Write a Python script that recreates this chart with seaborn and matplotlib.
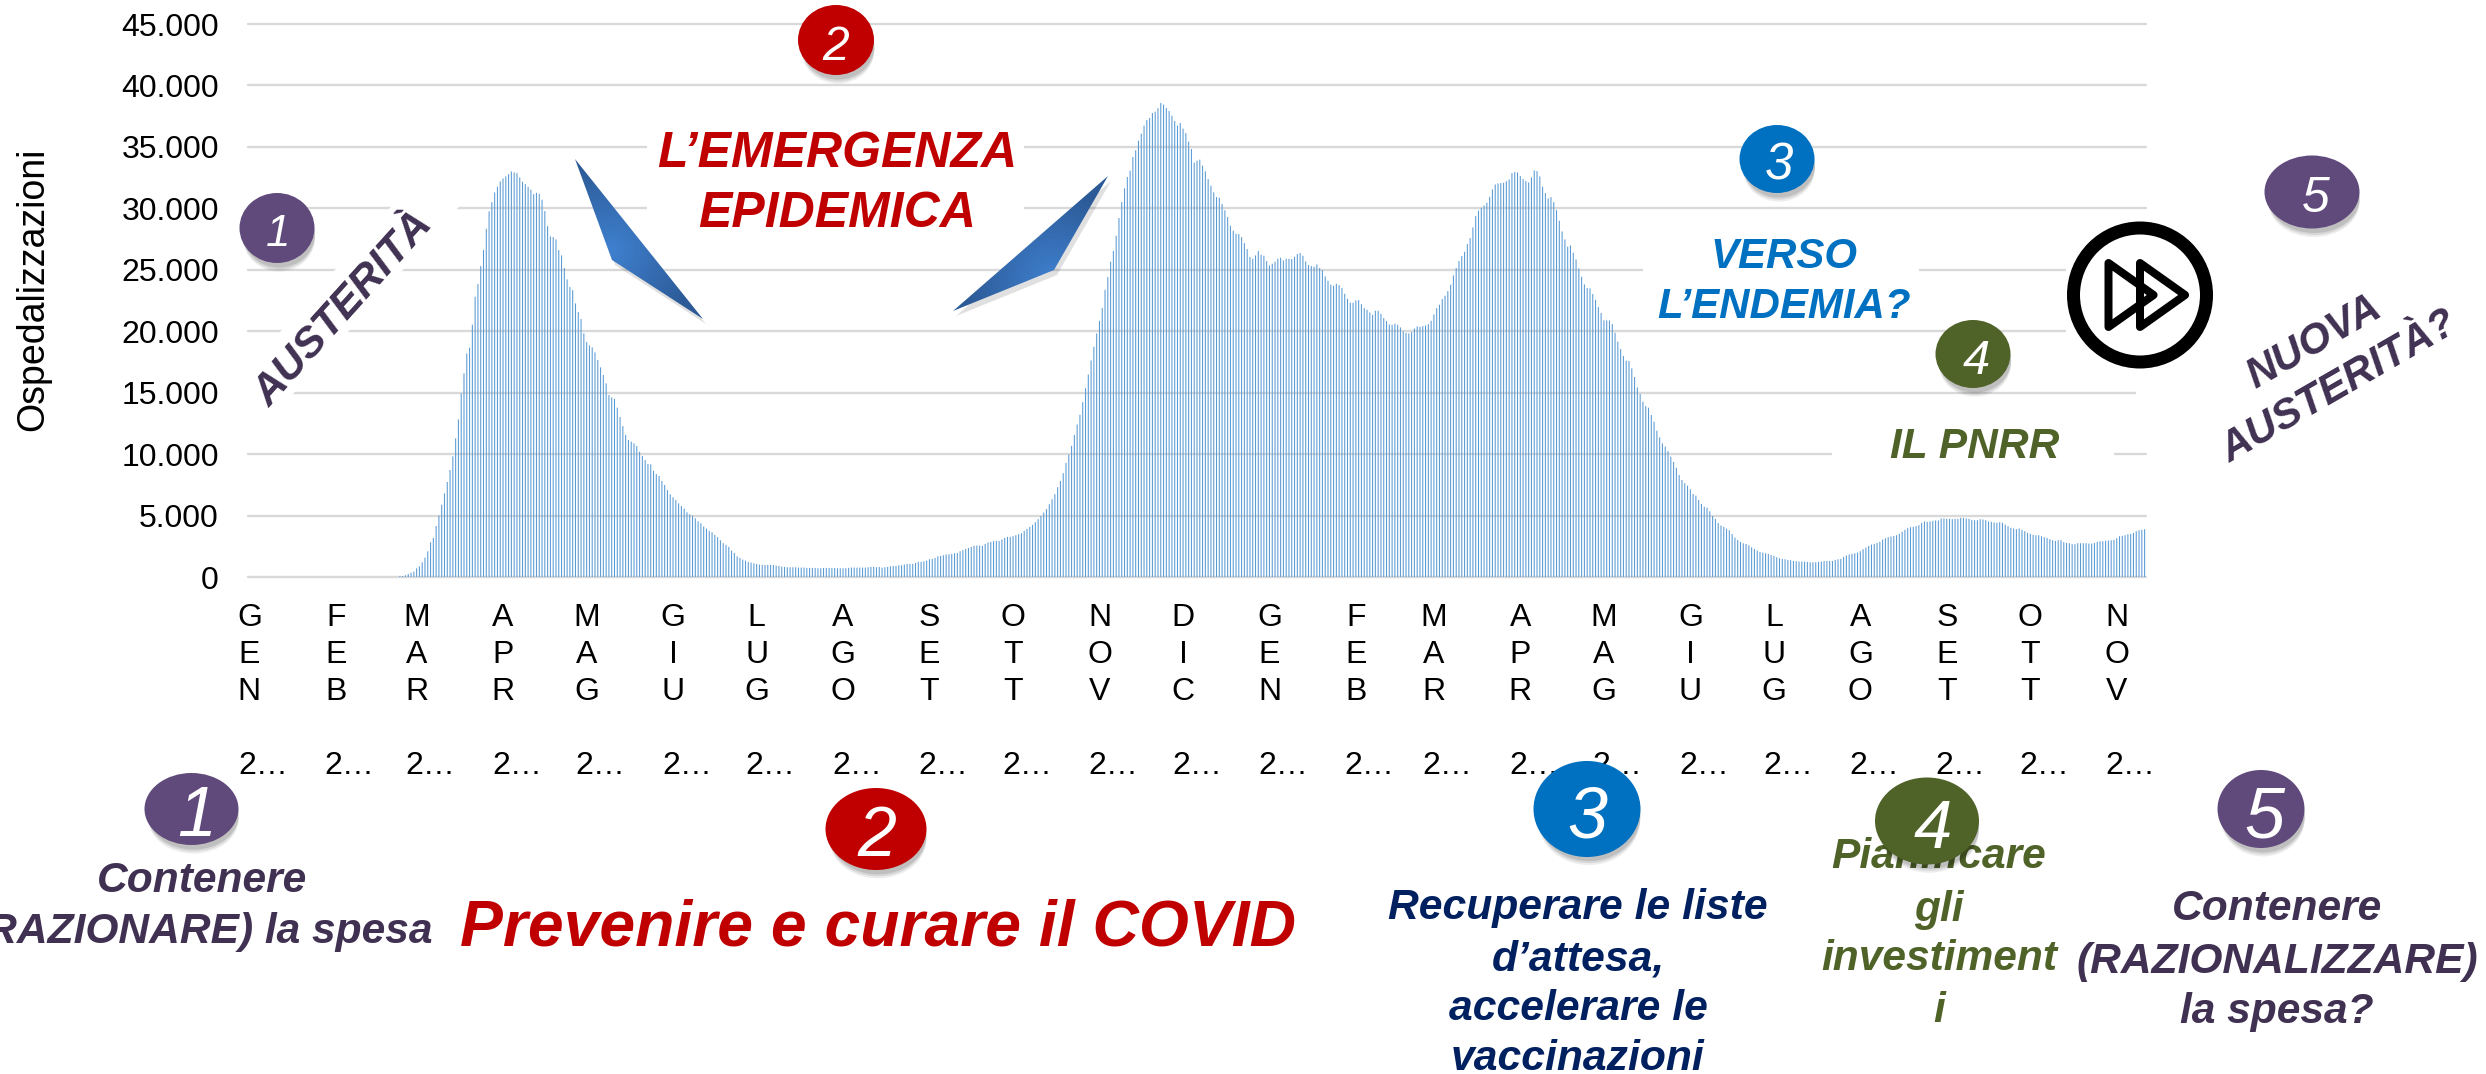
import numpy as np
import pandas as pd
import matplotlib
matplotlib.use("Agg")
import matplotlib.pyplot as plt
import seaborn as sns
from matplotlib.patches import Ellipse, Polygon, Rectangle
from matplotlib.colors import LinearSegmentedColormap
from matplotlib.transforms import blended_transform_factory

# ---------- data: daily hospitalisations ----------
before_onset = [0] * 54
first_wave = [
    108, 108, 163, 271, 379, 461, 732, 894, 1220, 1599, 2114, 2846, 3198, 4173, 5014, 5908,
    6829, 7751, 8726, 9837, 11300, 12845, 14959, 16585, 18211, 18672, 20542, 22818, 23848,
    25311, 26612, 28347, 29756, 30515, 31300, 31761, 32195, 32439, 32601, 32791, 33008,
    32927, 32872, 32520, 32168, 31978, 31761, 31517, 31165, 31273, 31192, 30704, 29783,
    28563, 27723, 27669, 27479, 26612, 26179, 25149, 24227, 23604, 23360, 22276, 21572,
    21003, 19837, 19133, 18862, 18699, 18292, 17669, 17073, 16450, 15772, 14824, 14634,
    14499, 13794, 13035, 12303, 11572, 11165, 11030, 10894, 10677, 10217, 9864, 9539, 9214,
    9187, 8672, 8401, 8238, 7832, 7507, 7100, 6748, 6504, 6287, 6016, 5799, 5583, 5285,
    5122, 5014, 4797, 4553,
]
summer_2020 = [
    4400, 4130, 3967, 3777, 3668, 3450, 3260, 3016, 2771, 2635, 2472, 2174, 1983, 1712, 1576,
    1440, 1358, 1250, 1195, 1141, 1087, 1032, 1005, 1005, 1005, 1005, 1005, 951, 924, 869,
    842, 815, 815, 815, 815, 788, 788, 788, 761, 761, 761, 761, 734, 734, 761, 761, 761, 761,
    761, 734, 734, 734, 734, 761, 788, 788, 788, 788, 788, 788, 815, 842, 842, 815, 842, 788,
    815, 842, 897, 924, 924, 978, 978, 1032, 1087, 1087, 1087, 1168, 1250, 1250, 1304, 1358,
    1467, 1494, 1576, 1712, 1739, 1793, 1848, 1875, 1902, 1956, 1983, 2119, 2201, 2309, 2391,
    2472, 2554, 2581, 2581, 2554, 2717, 2826, 2880, 2934, 2962, 2962, 3070, 3206, 3288, 3288,
    3342, 3423, 3505, 3586, 3777, 3940, 4103, 4266, 4483, 4728,
]
second_wave = [
    4992, 5263, 5562, 5941, 6348, 6755, 7325, 7841, 8465, 9306, 9984, 10689, 11584, 12426,
    13212, 14243, 15382, 16495, 17634, 18746, 19832, 20862, 21893, 23386, 24417, 25665,
    26533, 27781, 29220, 30521, 31634, 32556, 33072, 34184, 34726, 35512, 36083, 36734,
    37195, 37358, 37765, 37873, 38144, 38579, 38443, 38172, 37928, 37548, 37114, 36734,
    36951, 36490, 36137, 35432, 34835, 33723, 33886, 33967, 33478, 33017, 32393, 31851,
    31308, 30928, 30874, 30358, 29843, 29300, 28595, 28188, 27944, 27917, 27673, 27184,
    26696, 26045, 25909, 26180, 26533, 26235, 26153, 25719, 25366, 25502, 25665, 25909,
    25991, 25773, 25909, 25909, 25882, 26072, 26289, 26370, 26153, 25692, 25394, 25313,
    25258, 25448, 25150, 24987, 24472, 24119, 23793, 23711, 23874, 23766, 23521, 23061,
    22654, 22328, 22328, 22518, 22545, 22219, 21894, 21758, 21541, 21351, 21677, 21677,
    21433, 21080, 20836, 20565, 20538, 20619, 20538, 20320, 19995, 19886, 19832, 19941,
    20239, 20402, 20375, 20429, 20483, 20592, 20863, 21378, 21894, 22165, 22626, 22898,
    23277, 23793, 24553, 25150, 25718,
]
third_wave = [
    26124, 26477, 27100, 27588, 28455, 29376, 29810, 30054, 30244, 30460, 30948, 31544,
    31951, 32032, 32059, 32086, 32222, 32357, 32872, 32954, 32927, 32628, 32385, 32222,
    32114, 32520, 33089, 33035, 32601, 31761, 31246, 30813, 30921, 30515, 29864, 28997,
    28130, 27479, 26883, 26992, 26395, 25853, 25122, 24444, 23821, 23523, 23496, 23035,
    22574, 21978, 21490, 20894, 20894, 20894, 20596, 19891, 19160, 18564, 17994, 17615,
    17588, 16992, 16287, 15447, 14905, 14282, 13929, 13794, 13198, 12656, 11924, 11382,
    10894, 10623, 10271, 9810, 9377, 8916, 8320, 7913, 7642, 7453, 7154, 6775, 6640, 6287,
    5962, 5745, 5664, 5366, 4986, 4743, 4417, 4201, 4092, 3957, 3821, 3523, 3225, 3035,
    2873, 2764, 2710, 2602, 2439, 2304, 2168,
]
late_2021 = [
    2065, 2010, 1956, 1902, 1820, 1739, 1630, 1549, 1494, 1467, 1413, 1386, 1331, 1304, 1277,
    1277, 1277, 1250, 1223, 1223, 1223, 1250, 1277, 1331, 1331, 1331, 1331, 1413, 1467, 1494,
    1657, 1766, 1848, 1902, 1956, 2010, 2119, 2282, 2418, 2554, 2663, 2717, 2799, 2880, 3070,
    3179, 3260, 3315, 3369, 3423, 3532, 3695, 3858, 3994, 4076, 4103, 4157, 4239, 4429, 4537,
    4510, 4537, 4592, 4619, 4619, 4782, 4782, 4755, 4755, 4728, 4755, 4755, 4836, 4836, 4782,
    4755, 4673, 4646, 4646, 4728, 4700, 4646, 4537, 4510, 4456, 4429, 4483, 4429, 4293, 4157,
    4021, 3967, 3912, 3967, 3858, 3749, 3614, 3532, 3451, 3423, 3423, 3342, 3260, 3206, 3097,
    3016, 2962, 3016, 3016, 2853, 2799, 2771, 2690, 2690, 2771, 2771, 2771, 2771, 2744, 2744,
    2799, 2880, 2934, 2934, 2962, 2989, 3016, 3043, 3179, 3342, 3369, 3423, 3505, 3532, 3614,
    3749, 3831, 3858, 3912,
]
hospitalised = before_onset + first_wave + summer_2020 + second_wave + third_wave + late_2021
assert len(hospitalised) == 681

month_letters = ["G\nE\nN", "F\nE\nB", "M\nA\nR", "A\nP\nR", "M\nA\nG", "G\nI\nU", "L\nU\nG",
                 "A\nG\nO", "S\nE\nT", "O\nT\nT", "N\nO\nV", "D\nI\nC"]
year_label = "2\u2026"
y_ticks = [0, 5000, 10000, 15000, 20000, 25000, 30000, 35000, 40000, 45000]
y_tick_labels = ["0", "5.000", "10.000", "15.000", "20.000", "25.000", "30.000", "35.000",
                 "40.000", "45.000"]

# ---------- figure ----------
W, H = 2486, 1074
sns.set_theme(style="white")
plt.rcParams["font.family"] = ["Liberation Sans", "DejaVu Sans"]


def px(p):
    return p * 0.72


fig = plt.figure(figsize=(W / 100, H / 100), dpi=100, facecolor="white")
L, R, T, B = 248, 2146, 24, 577.3
ax = fig.add_axes([L / W, 1 - B / H, (R - L) / W, (B - T) / H])
ax.set_axisbelow(True)

dates = pd.date_range("2020-01-01", periods=len(hospitalised))
df = pd.DataFrame({"day": np.arange(len(hospitalised)), "ricoverati": hospitalised})
sns.barplot(data=df, x="day", y="ricoverati", color="#5B9BD5", saturation=1, width=0.38,
            linewidth=0, errorbar=None, ax=ax)
for p in ax.patches:
    p.set_snap(False)

ax.set_ylim(0, 45000)
ax.set_xlim(-0.5, len(hospitalised) - 0.5)
ax.set_yticks(y_ticks, y_tick_labels)
firsts = np.where(dates.day == 1)[0]
ax.set_xticks(firsts, [month_letters[dates[i].month - 1] for i in firsts])
ax.tick_params(axis="y", length=0, pad=21, labelsize=23, labelcolor="black")
ax.tick_params(axis="x", length=0, pad=18.5, labelsize=23, labelcolor="black")
plt.setp(ax.get_xticklabels(), linespacing=1.31)
ax.grid(axis="y", color="#D9D9D9", linewidth=1.7)
ax.grid(axis="x", visible=False)
for g in ax.get_ygridlines():
    g.set_clip_on(False)
sns.despine(ax=ax, left=True, bottom=True)
ax.set_xlabel("")
ax.set_ylabel("Ospedalizzazioni", fontsize=27, color="black")
ax.yaxis.set_label_coords((51 - L) / (R - L), 1 - (289 - T) / (B - T))

# the truncated year under every month label
year_tf = blended_transform_factory(ax.transData, ax.transAxes)
year_y = (B - 763) / (B - T)
for i in firsts:
    ax.annotate(year_label, xy=(i, year_y), xycoords=year_tf, xytext=(10, 0), textcoords="offset points",
                ha="center", va="center_baseline", fontsize=23, color="black", annotation_clip=False)

# ---------- overlay in picture pixels: slide shapes and captions ----------
ov = fig.add_axes([0, 0, 1, 1], zorder=5)
ov.patch.set_visible(False)
ov.axis("off")

PURPLE, RED, BLUE, GREEN = "#604A7B", "#C00000", "#0070C0", "#4F6228"
DARK_PURPLE, NAVY = "#403152", "#002060"

# white text boxes that interrupt the gridlines
for x, y, w, h in [(647, 120, 377, 110), (1643, 225, 276, 90), (1832, 420, 282, 55),
                   (2066, 245, 140, 100), (2136, 380, 30, 25)]:
    ov.add_patch(Rectangle((x, y), w, h, fc="white", ec="none", zorder=1))
ov.add_patch(Polygon([(419, 175), (487, 175), (270, 420), (202, 420)], fc="white", ec="none", zorder=1))


def badge(cx, cy, w, h, color, digit, size, nudge=3):
    for off, a in [(10, 0.07), (8, 0.09), (6, 0.11)]:
        ov.add_patch(Ellipse((cx + 2, cy + off), w * 0.96, h * 0.96, fc="black", ec="none", alpha=a, zorder=3.9))
    ov.add_patch(Ellipse((cx, cy), w, h, fc=color, ec="none", zorder=4))
    ov.text(cx + nudge, cy + 2, digit, color="white", fontsize=px(size), style="italic", ha="center",
            va="center_baseline", zorder=5)


badge(277, 228, 75, 70, PURPLE, "1", 44, 1)
badge(836, 40, 76, 70, RED, "2", 48, 0)
badge(1777, 159, 75, 68, BLUE, "3", 51, 2)
badge(1973, 354, 75, 68, GREEN, "4", 49)
badge(2312, 192, 95, 73, PURPLE, "5", 50, 4)
badge(191.5, 809, 94, 72, PURPLE, "1", 70, 5)
badge(876, 829, 101, 82, RED, "2", 70, 1)
badge(1587, 809, 107, 96, BLUE, "3", 72, 0)
badge(1927, 821, 104, 87, GREEN, "4", 69, 6)
badge(2261, 809, 87, 78, PURPLE, "5", 72, 3)


def caption(x, y, s, color, size, rot=0):
    ov.text(x, y, s, color=color, fontsize=px(size), fontweight="bold", style="italic",
            ha="center", va="center_baseline", rotation=rot, rotation_mode="anchor", zorder=3)


caption(837, 149, "L\u2019EMERGENZA", RED, 50)
caption(837, 209, "EPIDEMICA", RED, 50)
caption(341, 306, "AUSTERIT\u00c0", DARK_PURPLE, 43, rot=48)
caption(1784, 252, "VERSO", BLUE, 42)
caption(1784, 303, "L\u2019ENDEMIA?", BLUE, 42)
caption(1975, 442, "IL PNRR", GREEN, 42.5)
caption(2312, 338, "NUOVA", DARK_PURPLE, 42, rot=30)
caption(2337, 383, "AUSTERIT\u00c0?", DARK_PURPLE, 42, rot=30)
caption(202, 876, "Contenere", DARK_PURPLE, 42.5)
caption(202, 928, "(RAZIONARE) la spesa", DARK_PURPLE, 42.5)
caption(878, 922, "Prevenire e curare il COVID", RED, 64.2)
for y, s in zip([904, 955, 1005, 1055], ["Recuperare le liste", "d\u2019attesa,", "accelerare le", "vaccinazioni"]):
    caption(1578, y, s, NAVY, 42.6)
for y, s in zip([852, 905, 955, 1007], ["Pianificare", "gli", "investiment", "i"]):
    caption(1939, y, s, GREEN, 42.5)
for y, s in zip([905, 957, 1008], ["Contenere", "(RAZIONALIZZARE)", "la spesa?"]):
    caption(2277, y, s, DARK_PURPLE, 42.5)

# blue arrow-like shapes with a gradient
cmap = LinearSegmentedColormap.from_list("arrow", ["#3F80CF", "#2C5A96"])


def wedge(points, light):
    pts = np.array(points, dtype=float)
    ov.add_patch(Polygon(pts + [3, 5], fc="black", ec="none", alpha=0.12, zorder=1.5))
    x0, y0 = pts.min(axis=0)
    x1, y1 = pts.max(axis=0)
    X, Y = np.meshgrid(np.linspace(x0, x1, 200), np.linspace(y0, y1, 200))
    g = np.hypot(X - light[0], Y - light[1])
    im = ov.imshow(g, extent=(x0, x1, y1, y0), cmap=cmap, vmin=0, vmax=90, aspect="auto", zorder=2)
    im.set_clip_path(Polygon(pts, transform=ov.transData))


wedge([(575, 159), (703, 319), (612, 260)], (612, 250))
wedge([(1108, 176), (1054, 270), (953, 311)], (1054, 280))

# fast-forward icon
ov.add_patch(Ellipse((2140, 295), 133, 134, fc="white", ec="black", lw=px(13), zorder=3))
for dx in (0, 31.5):
    ov.add_patch(Polygon([(2108.5 + dx, 263), (2108.5 + dx, 327), (2153.6 + dx, 295)], closed=True,
                         fill=False, ec="black", lw=px(8), joinstyle="round", zorder=3.5))

ov.set_xlim(0, W)
ov.set_ylim(H, 0)

fig.savefig("out.png", dpi=100, facecolor="white")
